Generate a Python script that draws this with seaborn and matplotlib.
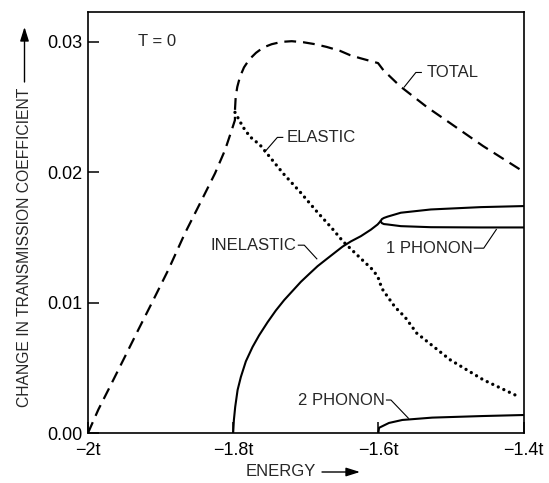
import matplotlib
matplotlib.use("Agg")
import matplotlib.pyplot as plt
import seaborn as sns

# energy in units of t, change in transmission coefficient
total_e = [-2.0, -1.9858, -1.9673, -1.9490, -1.9307, -1.9122, -1.8894, -1.8664,
           -1.8433, -1.8250, -1.8112, -1.8020, -1.7976, -1.7974, -1.7965, -1.7943,
           -1.7906, -1.7851, -1.7778, -1.7685, -1.7585, -1.7469, -1.7331, -1.7193,
           -1.7034, -1.6872, -1.6711, -1.6528, -1.6390, -1.6252, -1.6004, -1.5931,
           -1.5701, -1.5329, -1.5012, -1.4558, -1.4]
total_t = [0.0, 0.00179, 0.00383, 0.00587, 0.00792, 0.00996, 0.01251, 0.01533,
           0.01788, 0.01992, 0.02171, 0.02324, 0.0240, 0.0249, 0.0258, 0.02656,
           0.02733, 0.02805, 0.02866, 0.02917, 0.02958, 0.02983, 0.03001, 0.03006,
           0.02998, 0.02983, 0.02962, 0.02932, 0.02899, 0.02876, 0.02838, 0.02784,
           0.02661, 0.0250, 0.02378, 0.02202, 0.02005]

elastic_e = [-1.7975, -1.7864, -1.7768, -1.7630, -1.7309, -1.7079, -1.6849, -1.6638,
             -1.6487, -1.6225, -1.6073, -1.6004, -1.5977, -1.5936, -1.5770, -1.5632,
             -1.5471, -1.5012, -1.4554, -1.4071]
elastic_t = [0.0246, 0.02347, 0.02273, 0.0221, 0.0199, 0.0185, 0.0170, 0.0157,
             0.0147, 0.0133, 0.0125, 0.01195, 0.01149, 0.01096, 0.00966, 0.00889,
             0.00766, 0.00562, 0.00408, 0.0028]

inelastic_e = [-1.8, -1.7990, -1.7972, -1.7939, -1.7894, -1.7825, -1.7733, -1.7642,
               -1.7526, -1.7412, -1.7297, -1.7182, -1.7067, -1.6953, -1.6837, -1.6723,
               -1.6608, -1.6493, -1.6378, -1.6241, -1.6103, -1.6010, -1.5970, -1.5951,
               -1.5923, -1.5873, -1.5690, -1.5277, -1.4588, -1.4]
inelastic_t = [0.0, 0.001, 0.002, 0.0033, 0.0043, 0.0055, 0.0066, 0.0075,
               0.0085, 0.0094, 0.0102, 0.0109, 0.0116, 0.0122, 0.0128, 0.0133,
               0.0138, 0.0143, 0.0147, 0.0151, 0.0156, 0.0160, 0.01625, 0.01641,
               0.0165, 0.0166, 0.0169, 0.01715, 0.01733, 0.01741]

one_phonon_e = [-1.5970, -1.5951, -1.5923, -1.5873, -1.5690, -1.5277, -1.4588, -1.4]
one_phonon_t = [0.01625, 0.0161, 0.01603, 0.0160, 0.01587, 0.01579, 0.01577, 0.01577]

two_phonon_e = [-1.6, -1.599, -1.5854, -1.567, -1.5258, -1.4572, -1.4]
two_phonon_t = [0.0, 0.0004, 0.00077, 0.001, 0.00118, 0.0013, 0.00138]

x_ticks = [-2.0, -1.8, -1.6, -1.4]
x_tick_labels = ["\u22122t", "\u22121.8t", "\u22121.6t", "\u22121.4t"]
y_ticks = [0.0, 0.01, 0.02, 0.03]
y_tick_labels = ["0.00", "0.01", "0.02", "0.03"]

sns.set_theme(style="ticks")
plt.rcParams["font.family"] = ["Liberation Sans", "DejaVu Sans"]
plt.rcParams["lines.scale_dashes"] = False

ink = "black"
fig = plt.figure(figsize=(5.49, 4.83), dpi=100)
ax = fig.add_axes([88 / 549, 1 - 433 / 483, 435.5 / 549, 421 / 483])

sns.lineplot(x=total_e, y=total_t, ax=ax, sort=False, estimator=None, color=ink,
             lw=1.6, linestyle=(0, (8.5, 5)), dash_capstyle="butt",
             dash_joinstyle="round")
sns.lineplot(x=elastic_e, y=elastic_t, ax=ax, sort=False, estimator=None, color=ink,
             lw=2.4, linestyle=(0, (0.01, 4.4)), dash_capstyle="round")
for xs, ys in [(inelastic_e, inelastic_t), (one_phonon_e, one_phonon_t),
               (two_phonon_e, two_phonon_t)]:
    sns.lineplot(x=xs, y=ys, ax=ax, sort=False, estimator=None, color=ink,
                 lw=1.5, solid_joinstyle="round")

ax.set_xlim(-2.0, -1.4)
ax.set_ylim(0, 0.0323)
ax.set_xticks(x_ticks, x_tick_labels)
ax.set_yticks(y_ticks, y_tick_labels)
ax.set_xlabel("")
ax.set_ylabel("")
ax.tick_params(direction="in", length=8, width=1.1, labelsize=13,
               color=ink, labelcolor=ink)
ax.tick_params(axis="x", pad=6.5)
ax.tick_params(axis="y", pad=4)
for sp in ax.spines.values():
    sp.set_linewidth(1.2)
    sp.set_color(ink)

# curve labels with little hooked leaders
lead = dict(color=ink, lw=0.8, solid_capstyle="butt")
ax.text(-1.931, 0.0300, "T = 0", fontsize=12, ha="left", va="center")

ax.text(-1.5332, 0.02766, "TOTAL", fontsize=12, ha="left", va="center")
ax.plot([-1.5648, -1.5483, -1.540], [0.02651, 0.02766, 0.02766], **lead)

ax.text(-1.7268, 0.02268, "ELASTIC", fontsize=12, ha="left", va="center")
ax.plot([-1.757, -1.7391, -1.7309], [0.02153, 0.02268, 0.02268], **lead)

ax.text(-1.713, 0.01441, "INELASTIC", fontsize=12, ha="right", va="center")
ax.plot([-1.711, -1.702, -1.6842], [0.01441, 0.01441, 0.01333], **lead)

ax.text(-1.5895, 0.01418, "1 PHONON", fontsize=12, ha="left", va="center")
ax.plot([-1.4685, -1.4548, -1.437], [0.01418, 0.01418, 0.01565], **lead)

ax.text(-1.591, 0.00253, "2 PHONON", fontsize=12, ha="right", va="center")
ax.plot([-1.5895, -1.5826, -1.558], [0.00253, 0.00253, 0.0011], **lead)

# axis titles with arrows
fig.text(24.5 / 549, 1 - 247.5 / 483, "CHANGE IN TRANSMISSION COEFFICIENT",
         rotation=90, ha="center", va="center", fontsize=11.3)
fig.text(281 / 549, 1 - 472 / 483, "ENERGY", ha="center", va="center", fontsize=12)
arrow = dict(arrowstyle="-|>,head_length=0.7,head_width=0.22", color=ink, lw=1.0,
             shrinkA=0, shrinkB=0)
ax.annotate("", xy=(360, 483 - 472), xytext=(322, 483 - 472),
            xycoords="figure pixels", textcoords="figure pixels",
            arrowprops=arrow, annotation_clip=False)
ax.annotate("", xy=(24.5, 483 - 27), xytext=(24.5, 483 - 82),
            xycoords="figure pixels", textcoords="figure pixels",
            arrowprops=arrow, annotation_clip=False)

fig.savefig("out.png", dpi=100)
plt.close(fig)
